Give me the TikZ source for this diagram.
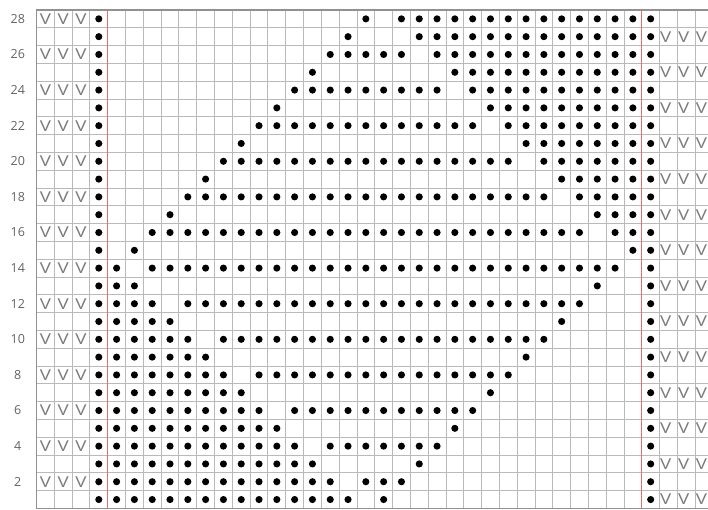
\documentclass[tikz,border=0pt]{standalone}
\usepackage{fontspec}
\setsansfont{Open Sans}
\definecolor{gridGray}{RGB}{185,185,185}
\definecolor{frameGray}{RGB}{145,145,145}
\definecolor{edgeRed}{RGB}{222,112,112}
\definecolor{labelGray}{RGB}{100,100,100}
\tikzset{
  slipmark/.style={font=\sffamily\fontsize{12}{12}\selectfont,text=labelGray!85,inner sep=0pt,xscale=1.25},
  rowlabel/.style={font=\sffamily\fontsize{10}{10}\selectfont,text=labelGray,inner sep=0pt},
  purldot/.style={fill=black}
}

\begin{document}
\begin{tikzpicture}[x=0.5cm,y=0.5cm]
\useasboundingbox[fill=white] (-2.05,-0.07) rectangle (37.72,28.56);
\draw[gridGray,line width=0.7pt,step=0.5cm] (0,0) grid (38,28);
\draw[frameGray,line width=1.3pt] (38,28) -- (0,28) -- (0,0) -- (38,0);
\draw[edgeRed,line width=0.9pt] (4,0) -- (4,28) (34,0) -- (34,28);
\foreach \r in {1,...,28}{
  \fill[purldot] (3.5,\r-0.5) circle (0.2);
  \fill[purldot] (34.5,\r-0.5) circle (0.2);
}
\foreach \r in {2,4,...,28}{
  \node[rowlabel] (row\r) at (-1.05,\r-0.5) {\r};
  \foreach \k in {0,1,2}
    \node[slipmark] (vl\r-\k) at (\k+0.5,\r-0.5) {V};
}
\foreach \r in {1,3,...,27}
  \foreach \k in {35,36,37}
    \node[slipmark] (vr\r-\k) at (\k+0.35,\r-0.5) {V};
\foreach \r/\a/\b/\c/\d in {28/15/15/17/30,27/14/14/18/30,26/13/17/19/30,25/12/12/20/30,
    24/11/19/21/30,23/10/10/22/30,22/9/21/23/30,21/8/8/24/30,20/7/23/25/30,19/6/6/26/30,
    18/5/25/27/30,17/4/4/28/30,16/3/27/29/30,15/2/2/30/30,14/1/1/3/29,13/1/2/28/28,
    12/1/3/5/27,11/1/4/26/26,10/1/5/7/25,9/1/6/24/24,8/1/7/9/23,7/1/8/22/22,
    6/1/9/11/21,5/1/10/20/20,4/1/11/13/19,3/1/12/18/18,2/1/13/15/17,1/1/14/16/16}{
  \foreach \j in {\a,...,\b}
    \fill[purldot] (\j+3.5,\r-0.5) circle (0.2);
  \foreach \j in {\c,...,\d}
    \fill[purldot] (\j+3.5,\r-0.5) circle (0.2);
}
\end{tikzpicture}
\end{document}
